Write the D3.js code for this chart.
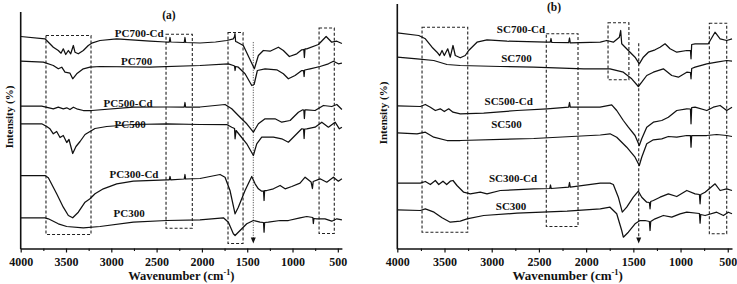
<!DOCTYPE html>
<html>
<head>
<meta charset="utf-8">
<script src="https://cdn.jsdelivr.net/npm/d3@7"></script>
<style>
  html, body { margin: 0; padding: 0; background: #fff; }
  svg { display: block; }
  text { font-family: "Liberation Serif", "Times New Roman", serif; font-weight: bold; fill: #111; }
</style>
</head>
<body>
<div id="chart"></div>
<script>
// wavenumber axis (cm-1)
const majorTicks = [4000, 3500, 3000, 2500, 2000, 1500, 1000, 500];
const minorTicks = [3750, 3250, 2750, 2250, 1750, 1250, 750];

// panel (a) spectra, [wavenumber, intensity a.u.]
const pc700Cd = [[4000,212],[3732,209.7],[3640,201.3],[3585,198],[3555,195.3],[3530,199.7],[3503,194],[3474,198],[3448,194.7],[3419,203],[3401,196.3],[3364,194.7],[3309,198],[3254,203],[3216,205.3],[3125,208],[2940,209.7],[2573,207.3],[2400,206.5],[2360,206.5],[2352,211],[2344,206.5],[2195,206],[2187,211],[2179,206],[2021,205.5],[1850,206.5],[1726,208],[1653,209.7],[1640,212],[1635,215],[1628,207],[1609,206.3],[1543,203],[1421,179.7],[1377,193],[1322,198],[1248,197.3],[1156,201.3],[1101,198],[1035,192],[953,194.7],[898,198.7],[875,199],[869,191],[862,199.7],[843,199.7],[714,204],[629,212],[567,206.3],[511,207.3],[455,205]];
const pc700 = [[4000,187.3],[3750,186.3],[3640,183],[3585,179.7],[3547,181.3],[3511,176.3],[3456,175.3],[3426,169.7],[3382,174.7],[3309,179.7],[3235,181.3],[3125,182],[2573,181.3],[2021,183],[1708,184.7],[1653,183],[1640,182.5],[1634,178],[1628,182],[1598,181.3],[1524,174.7],[1450,163],[1424,164],[1388,178],[1303,179.7],[1174,178.7],[1101,174.7],[1046,169.7],[972,173],[898,178],[878,178],[872,172],[866,178.5],[806,179.7],[696,182],[604,184.7],[549,187.3],[494,184.7],[455,185.3]];
const pc500Cd = [[4000,142.3],[3768,142.3],[3640,139.7],[3585,141.3],[3530,139.7],[3492,140.7],[3456,139],[3419,141.3],[3382,139.7],[3309,138],[3216,138],[2757,141.3],[2388,141.5],[2195,141.5],[2187,146],[2180,141.5],[2021,141.5],[1745,144],[1671,139.7],[1579,131.3],[1505,124.7],[1432,116.3],[1377,124.7],[1303,129.7],[1193,129.7],[1119,126.3],[1027,128],[935,136.3],[887,138.7],[875,138.5],[869,130],[862,138.7],[843,138.7],[751,138],[659,143],[567,142],[511,144],[455,139]];
const pc500 = [[4000,124.7],[3768,124.7],[3713,122],[3677,119.7],[3640,114.7],[3603,117],[3566,111],[3530,113],[3492,106],[3467,109],[3426,95],[3390,102],[3345,107],[3290,114],[3235,117],[3180,120],[3051,122],[2757,124],[2388,124.7],[2021,124],[1726,124],[1671,121.3],[1640,120],[1634,109.7],[1623,118],[1579,113],[1505,104.7],[1432,93],[1395,104.7],[1340,111.3],[1211,111.3],[1119,109.7],[1046,106.3],[972,113],[898,119.7],[878,119.5],[872,110],[866,119.5],[843,119.7],[751,121.3],[677,126.3],[604,121.3],[530,126.3],[483,119.7],[455,121.3]];
const pc300Cd = [[4000,73],[3732,73],[3695,70.7],[3603,54.7],[3530,41.3],[3474,33],[3426,30.7],[3364,36.3],[3290,46.3],[3235,49.7],[3180,54.7],[3088,59.7],[2940,64.7],[2757,67.3],[2388,68.7],[2360,68.7],[2352,72],[2344,68.7],[2195,69.5],[2187,74],[2180,69.5],[2021,70],[1800,74],[1745,71.3],[1690,58],[1634,34.7],[1598,41.3],[1524,58],[1450,72],[1413,64.7],[1377,59.7],[1340,57.3],[1320,57.5],[1314,48],[1308,58],[1284,58],[1211,59.7],[1137,63],[1082,59.7],[1008,62],[917,65.3],[861,71.3],[795,66.5],[780,60],[772,67],[696,69.7],[622,66.3],[549,71.3],[494,67.3],[455,69.7]];
const pc300 = [[4000,30.7],[3732,30.7],[3695,29.7],[3585,24.7],[3492,22],[3309,20.7],[3125,22],[2757,26.3],[2388,28],[2021,28.7],[1763,30.7],[1708,26.3],[1653,14.7],[1634,13],[1579,18],[1505,24.7],[1432,28],[1358,26.3],[1320,26],[1314,16.3],[1308,26],[1267,26.3],[1137,28],[1046,28],[917,30.7],[843,32],[776,31],[770,25],[764,30],[732,29.7],[641,29.7],[567,27.3],[511,29.7],[455,28.7]];

// panel (b) spectra
const sc700Cd = [[4000,215.7],[3773,213],[3703,209.7],[3632,201.3],[3579,196.3],[3551,193],[3526,198],[3502,193],[3466,199.7],[3439,191.3],[3410,203],[3386,193],[3333,190.7],[3280,193],[3244,198],[3156,206.3],[3050,208.7],[2838,207.3],[2414,206.3],[2380,206.3],[2372,210],[2364,206],[2185,205.8],[2176,210.5],[2168,205.7],[1850,206.3],[1782,208],[1712,206.3],[1648,211.3],[1634,218],[1623,204.7],[1553,198],[1482,191.3],[1437,184.7],[1394,191.3],[1341,196.3],[1270,198.7],[1217,201.3],[1164,204.7],[1111,199.7],[1040,196.3],[934,198],[895,198],[889,189.7],[882,204],[846,204.7],[706,204.7],[635,216.3],[581,209.7],[511,208],[455,209.7]];
const sc700 = [[4000,191.3],[3791,189.7],[3614,188],[3474,184],[3333,183],[2909,182],[2555,181.3],[2025,179.7],[1747,179.7],[1606,176.3],[1517,169.7],[1447,162],[1411,166.3],[1358,173],[1288,176.3],[1182,179.7],[1093,173],[1023,171.3],[934,176.3],[895,176],[889,169.7],[882,180],[846,181.3],[722,184.7],[617,186.3],[511,188],[455,187.3]];
const sc500Cd = [[4000,142.7],[3756,142],[3703,144],[3650,141.3],[3597,138],[3545,139.7],[3502,137],[3456,139.7],[3410,136.3],[3333,134.7],[3085,135.3],[2732,138],[2414,139.7],[2185,141.3],[2176,146],[2168,141.3],[1853,141.3],[1729,143.7],[1676,138],[1606,128],[1553,121.3],[1482,113],[1437,103],[1411,109.7],[1358,121.3],[1288,126.3],[1199,128],[1129,131.3],[1040,138],[934,139.7],[895,139.5],[889,124.7],[882,141],[846,141.3],[722,138],[653,141.3],[581,143],[511,138],[455,141.3]];
const sc500 = [[4000,115.7],[3791,114.7],[3703,116.3],[3614,111.3],[3474,108],[3333,108],[2555,110],[1850,113.5],[1747,114.7],[1676,111.3],[1570,101.3],[1482,91.3],[1437,83],[1411,91.3],[1358,104.7],[1288,108.7],[1199,109.7],[1129,112],[1040,111.3],[934,113],[895,113],[889,101.3],[882,113],[846,113],[722,113],[617,114],[511,113],[455,112]];
const sc300Cd = [[4000,65.3],[3756,65.3],[3703,67],[3650,64],[3597,68],[3561,64],[3516,67.3],[3477,64],[3439,67.3],[3410,68],[3368,63],[3297,56.3],[3227,54.7],[3121,56.3],[3050,54.7],[2909,58],[2555,59.7],[2385,60],[2378,63.5],[2370,60],[2185,61.3],[2176,66],[2168,61.3],[1850,65.3],[1747,65.3],[1712,64],[1659,51.3],[1617,36.3],[1570,41.3],[1500,51.3],[1447,57.3],[1411,51.3],[1358,46.3],[1330,46],[1323,39.7],[1316,47],[1288,48],[1217,51.3],[1129,54.7],[1040,52],[934,58],[846,54.7],[800,54],[793,44.7],[786,54],[740,56.3],[634,64.7],[581,58],[511,59.7],[455,58]];
const sc300 = [[4000,38.7],[3756,38],[3703,39.7],[3611,36.3],[3526,30.7],[3439,26.3],[3333,27.3],[3262,29.7],[3085,33],[2732,35.3],[2202,37.3],[1850,39.7],[1747,41.3],[1676,34.7],[1623,18],[1606,11.3],[1553,16.3],[1482,24.7],[1429,28],[1376,28],[1330,27],[1323,18],[1316,27],[1270,29.7],[1182,33],[1093,31.3],[1005,34.7],[934,36.3],[800,35],[793,25.3],[786,34],[740,33],[617,36.3],[546,33],[494,36.3],[455,34.7]];

const namesA = ["PC700-Cd", "PC700", "PC500-Cd", "PC500", "PC300-Cd", "PC300"];
const namesB = ["SC700-Cd", "SC700", "SC500-Cd", "SC500", "SC300-Cd", "SC300"];

// label anchors [wavenumber, intensity]
const labelAtA = [[2692,212],[2720,183.5],[2815,142],[2793,120.5],[2749,71],[2804,31.7]];
const labelAtB = [[2690,215.3],[2737,187],[2820,143.6],[2843,121],[2774,66.6],[2795,38.6]];

// marked regions [from cm-1, to cm-1, low, high]
const regionsA = [[3721,3224,14,213],[2396,2106,20.3,214.3],[1712,1546,5,216],[707,539,15,220.5]];
const regionsB = [[3738,3254,16.3,221.3],[2422,2086,22,214.7],[1768,1547,168.7,225.7],[695,511,14.7,225.3]];

// vertical marker [cm-1, bottom, top]
const markerA = [1433, 5, 206.3];
const markerB = [1443, 5, 205.3];

const W = 737, H = 284;
const svg = d3.select('#chart').append('svg').attr('width', W).attr('height', H);

function drawPanel(opt) {
  const x = d3.scaleLinear().domain([4000, 455]).range(opt.xRange);
  const y = d3.scaleLinear().domain([0, 245]).range([248.5, 3.5]);
  const g = svg.append('g');

  // regions
  g.append('g').selectAll('rect')
    .data(opt.regions)
    .join('rect')
    .attr('x', d => x(d[0]))
    .attr('width', d => x(d[1]) - x(d[0]))
    .attr('y', d => y(d[3]))
    .attr('height', d => y(d[2]) - y(d[3]))
    .attr('fill', 'none')
    .attr('stroke', '#222')
    .attr('stroke-width', 1.1)
    .attr('stroke-dasharray', '3,2');

  // marker line + arrow head
  const m = opt.marker;
  g.append('line')
    .attr('x1', x(m[0])).attr('x2', x(m[0]))
    .attr('y1', y(m[2])).attr('y2', y(m[1]) - 4)
    .attr('stroke', '#222')
    .attr('stroke-width', opt.markerDash === '1,1.5' ? 0.9 : 1.1)
    .attr('stroke-dasharray', opt.markerDash);
  const ax = x(m[0]), ay = y(m[1]);
  g.append('path')
    .attr('d', `M${ax - 2.5},${ay - 6}L${ax + 2.5},${ay - 6}L${ax},${ay}Z`)
    .attr('fill', '#111');

  // spectra
  const line = d3.line().x(d => x(d[0])).y(d => y(d[1]));
  g.append('g').selectAll('path')
    .data(opt.series)
    .join('path')
    .attr('d', line)
    .attr('fill', 'none')
    .attr('stroke', '#111')
    .attr('stroke-width', 1.25)
    .attr('stroke-linejoin', 'round');

  // curve labels
  g.append('g').selectAll('text')
    .data(opt.names)
    .join('text')
    .attr('x', (d, i) => x(opt.labelAt[i][0]))
    .attr('y', (d, i) => y(opt.labelAt[i][1]))
    .attr('text-anchor', 'middle')
    .attr('font-size', 11)
    .text(d => d);

  // x axis
  const xAxis = g.append('g')
    .attr('transform', `translate(0,${y(0)})`)
    .call(d3.axisBottom(x).tickValues(majorTicks).tickSize(4).tickSizeOuter(0).tickPadding(5).tickFormat(d3.format('d')));
  xAxis.attr('font-size', opt.tickFont).attr('font-family', null);
  xAxis.select('.domain').attr('stroke', '#111').attr('stroke-width', 1.6);
  xAxis.selectAll('.tick line').attr('stroke', '#111').attr('stroke-width', 1.2);

  const xMinor = g.append('g')
    .attr('transform', `translate(0,${y(0)})`)
    .call(d3.axisBottom(x).tickValues(minorTicks).tickSize(2.5).tickFormat(''));
  xMinor.select('.domain').remove();
  xMinor.selectAll('.tick line').attr('stroke', '#111').attr('stroke-width', 1.1);

  // y axis (line only)
  g.append('line')
    .attr('x1', x(4000)).attr('x2', x(4000))
    .attr('y1', y(0) + 0.8).attr('y2', y(opt.yTop))
    .attr('stroke', '#111').attr('stroke-width', 1.6);

  // titles
  const xt = g.append('text')
    .attr('x', (opt.xRange[0] + opt.xRange[1]) / 2 + opt.titleShift)
    .attr('y', 280)
    .attr('text-anchor', 'middle')
    .attr('font-size', opt.titleFont)
    .text('Wavenumber (cm');
  xt.append('tspan').attr('dy', -5).attr('font-size', opt.titleFont * 0.65).text('-1');
  xt.append('tspan').attr('dy', 5).text(')');

  g.append('text')
    .attr('transform', `translate(${opt.yTitle[0]},${opt.yTitle[1]}) rotate(-90)`)
    .attr('text-anchor', 'middle')
    .attr('font-size', 11)
    .text('Intensity (%)');

  g.append('text')
    .attr('x', opt.tag[0]).attr('y', opt.tag[1])
    .attr('text-anchor', 'middle')
    .attr('font-size', 11.5)
    .text(opt.tagText);
}

drawPanel({
  xRange: [20.7, 341.9],
  series: [pc700Cd, pc700, pc500Cd, pc500, pc300Cd, pc300],
  names: namesA, labelAt: labelAtA,
  regions: regionsA, marker: markerA, markerDash: '1,1.5',
  yTop: 236.5, tickFont: 12, titleFont: 12.5, titleShift: 0,
  yTitle: [12.5, 117], tag: [169, 19], tagText: '(a)'
});

drawPanel({
  xRange: [397.3, 732],
  series: [sc700Cd, sc700, sc500Cd, sc500, sc300Cd, sc300],
  names: namesB, labelAt: labelAtB,
  regions: regionsB, marker: markerB, markerDash: '3,2',
  yTop: 244.5, tickFont: 12, titleFont: 13, titleShift: 3,
  yTitle: [387, 113], tag: [554, 11], tagText: '(b)'
});
</script>
</body>
</html>
